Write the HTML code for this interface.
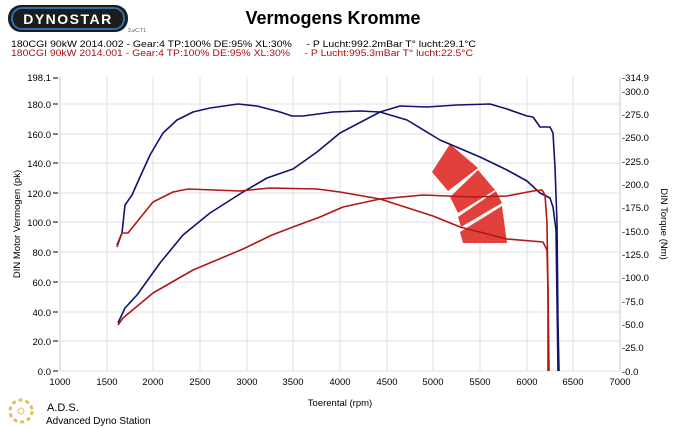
<!DOCTYPE html>
<html><head><meta charset="utf-8"><style>
html,body{margin:0;padding:0;background:#fff;width:685px;height:428px;overflow:hidden}
svg{display:block}
text{font-family:"Liberation Sans",sans-serif}
</style></head><body>
<svg width="685" height="428" viewBox="0 0 685 428">
<rect x="8" y="5" width="120" height="27" rx="13" fill="#1c1c1c"/>
<rect x="12" y="8" width="112" height="21" rx="10" fill="none" stroke="#2a6fb0" stroke-width="2"/>
<text x="68" y="24" font-size="14" font-weight="bold" fill="#fff" text-anchor="middle" letter-spacing="1.5">DYNOSTAR</text>
<text x="128" y="32" font-size="5" fill="#555">ע.3C.T1</text>
<text x="333" y="24" font-size="18" font-weight="bold" fill="#000" text-anchor="middle">Vermogens Kromme</text>
<text x="11" y="47" font-size="9.5" fill="#000" style="white-space:pre" textLength="465" lengthAdjust="spacingAndGlyphs">180CGI 90kW 2014.002 - Gear:4 TP:100% DE:95% XL:30%     - P Lucht:992.2mBar T° lucht:29.1°C</text>
<text x="11" y="56" font-size="9.5" fill="#b01010" style="white-space:pre" textLength="462" lengthAdjust="spacingAndGlyphs">180CGI 90kW 2014.001 - Gear:4 TP:100% DE:95% XL:30%     - P Lucht:995.3mBar T° lucht:22.5°C</text>
<g stroke="#e2e2e2" stroke-width="1">
<line x1="107" y1="77" x2="107" y2="371"/><line x1="153" y1="77" x2="153" y2="371"/><line x1="200" y1="77" x2="200" y2="371"/><line x1="247" y1="77" x2="247" y2="371"/><line x1="293" y1="77" x2="293" y2="371"/><line x1="340" y1="77" x2="340" y2="371"/><line x1="387" y1="77" x2="387" y2="371"/><line x1="433" y1="77" x2="433" y2="371"/><line x1="480" y1="77" x2="480" y2="371"/><line x1="527" y1="77" x2="527" y2="371"/><line x1="573" y1="77" x2="573" y2="371"/>
<line x1="60" y1="104" x2="620" y2="104"/><line x1="60" y1="134" x2="620" y2="134"/><line x1="60" y1="163" x2="620" y2="163"/><line x1="60" y1="193" x2="620" y2="193"/><line x1="60" y1="222" x2="620" y2="222"/><line x1="60" y1="252" x2="620" y2="252"/><line x1="60" y1="282" x2="620" y2="282"/><line x1="60" y1="312" x2="620" y2="312"/><line x1="60" y1="341" x2="620" y2="341"/><line x1="60" y1="371" x2="620" y2="371"/>
</g>
<line x1="60" y1="77" x2="60" y2="371" stroke="#ccc"/>
<line x1="620" y1="77" x2="620" y2="371" stroke="#ccc"/>
<g font-size="9.5" fill="#000" text-anchor="end">
<text x="51" y="81">198.1</text><text x="51" y="108">180.0</text><text x="51" y="138">160.0</text><text x="51" y="167">140.0</text><text x="51" y="197">120.0</text><text x="51" y="226">100.0</text><text x="51" y="256">80.0</text><text x="51" y="286">60.0</text><text x="51" y="316">40.0</text><text x="51" y="345">20.0</text><text x="51" y="375">0.0</text>
</g>
<g stroke="#000"><line x1="53" y1="78" x2="58" y2="78"/><line x1="53" y1="104" x2="58" y2="104"/><line x1="53" y1="134" x2="58" y2="134"/><line x1="53" y1="163" x2="58" y2="163"/><line x1="53" y1="193" x2="58" y2="193"/><line x1="53" y1="222" x2="58" y2="222"/><line x1="53" y1="252" x2="58" y2="252"/><line x1="53" y1="282" x2="58" y2="282"/><line x1="53" y1="312" x2="58" y2="312"/><line x1="53" y1="341" x2="58" y2="341"/><line x1="53" y1="371" x2="58" y2="371"/></g>
<g font-size="9.5" fill="#000">
<text x="622" y="81">-314.9</text><text x="622" y="95">-300.0</text><text x="622" y="118">-275.0</text><text x="622" y="141">-250.0</text><text x="622" y="165">-225.0</text><text x="622" y="188">-200.0</text><text x="622" y="211">-175.0</text><text x="622" y="235">-150.0</text><text x="622" y="258">-125.0</text><text x="622" y="281">-100.0</text><text x="622" y="305">-75.0</text><text x="622" y="328">-50.0</text><text x="622" y="351">-25.0</text><text x="622" y="375">-0.0</text>
</g>
<g font-size="9.5" fill="#000" text-anchor="middle">
<text x="60" y="385">1000</text><text x="107" y="385">1500</text><text x="153" y="385">2000</text><text x="200" y="385">2500</text><text x="247" y="385">3000</text><text x="293" y="385">3500</text><text x="340" y="385">4000</text><text x="387" y="385">4500</text><text x="433" y="385">5000</text><text x="480" y="385">5500</text><text x="527" y="385">6000</text><text x="573" y="385">6500</text><text x="620" y="385">7000</text>
</g>
<text x="340" y="406" font-size="9.5" text-anchor="middle">Toerental (rpm)</text>
<text transform="translate(20,224) rotate(-90)" font-size="9.5" text-anchor="middle">DIN Motor Vermogen (pk)</text>
<text transform="translate(661,224) rotate(90)" font-size="9.5" text-anchor="middle">DIN Torque (Nm)</text>
<circle cx="21" cy="411" r="11" fill="none" stroke="#e0c060" stroke-width="3" stroke-dasharray="4 3"/>
<circle cx="21" cy="411" r="3" fill="none" stroke="#e0c060"/>
<text x="47" y="411" font-size="11">A.D.S.</text>
<text x="46" y="424" font-size="10">Advanced Dyno Station</text>
<g fill="#e2403a">
<polygon points="432,172 450,144 478,168 448,191"/>
<polygon points="450,197 478,170 495,190 458,213"/>
<polygon points="458,217 496,191 502,203 461,227"/>
<polygon points="460,232 502,206 507,243 463,243"/>
</g>
<g fill="none" stroke-width="1.6" stroke-linejoin="round">
<polyline stroke="#121270" points="117,245 122,233 125,205 132,195 140,177 150,155 163,133 177,120 193,112 210,108 238,104 257,106 280,112 292,116 303,116 333,112 360,111 380,112 400,106 427,107 457,105 490,104 507,109 527,116 533,117 540,127 550,127 553,133 555,167 557,223 558,323 559,371"/>
<polyline stroke="#121270" points="118,323 125,308 137,295 160,263 183,235 210,213 243,192 267,178 293,169 317,152 340,133 380,112 407,120 440,140 480,157 507,170 527,181 540,193 550,198 553,207 556,230 557,300 558,371"/>
<polyline stroke="#b01818" points="117,247 122,233 128,233 153,202 173,192 188,189 240,191 270,188 317,189 340,192 380,199 433,216 460,227 507,239 543,242 547,250 548,290 549,371"/>
<polyline stroke="#b01818" points="118,325 123,318 153,293 193,270 243,249 272,235 293,227 320,217 343,207 380,199 423,195 473,197 507,196 533,191 542,190 545,195 547,223 548,290 548,371"/>
</g>
</svg>
</body></html>
